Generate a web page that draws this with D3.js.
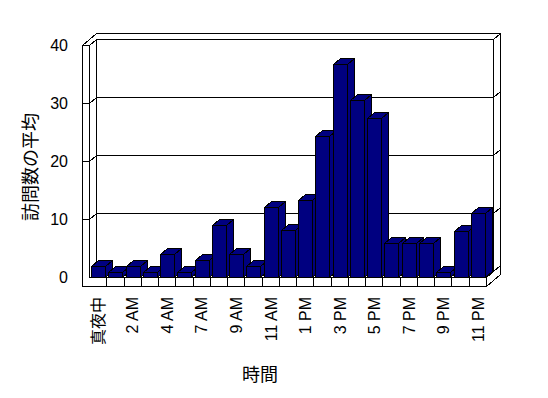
<!DOCTYPE html>
<html>
<head>
<meta charset="utf-8">
<script src="https://cdn.jsdelivr.net/npm/d3@7"></script>
<style>
  body { margin: 0; background: #fff; }
  svg { display: block; }
  text { fill: #000; }
</style>
</head>
<body>
<svg id="chart" width="548" height="398"></svg>
<script>
// hours of the day (5 AM has no visits and is not listed)
const hours = ['真夜中', '1 AM', '2 AM', '3 AM', '4 AM', '6 AM', '7 AM', '8 AM', '9 AM', '10 AM', '11 AM', '正午',
  '1 PM', '2 PM', '3 PM', '4 PM', '5 PM', '6 PM', '7 PM', '8 PM', '9 PM', '10 PM', '11 PM'];
const visits = [2, 1, 2, 1, 4, 1, 3, 9, 4, 2, 12.2, 8.2, 13.3, 24.4, 36.8, 30.6, 27.5, 6, 6, 6, 1, 8.1, 11.2];
const yTicks = [0, 10, 20, 30, 40];
const yTitle = '訪問数の平均';
const xTitle = '時間';

const BAR_FILL = '#000080';
const DX = 7;   // depth offset of one "slab" in the oblique projection
const DY = -6;
const WALL = 7; // left wall thickness
const FLOOR = 9; // floor thickness

const svg = d3.select('#chart');
const x0 = 89.5, x1 = 486.5;

const x = d3.scaleBand()
  .domain(hours)
  .range([x0, x1])
  .paddingInner(0.18)
  .paddingOuter(0.09);

const y = d3.scaleLinear().domain([0, 40]).range([277.5, 45.5]);

const step = x.step();
const yb = v => y(v) + DY;        // back wall plane
const yBase = y(0);
const yTop = y(40);
const pts = a => a.map(p => p.join(',')).join(' ');

const frame = svg.append('g')
  .attr('fill', '#fff')
  .attr('stroke', '#000')
  .attr('stroke-width', 1)
  .attr('shape-rendering', 'crispEdges');

// outer silhouette of walls + floor
frame.append('polygon').attr('points', pts([
  [x0 - WALL + 2 * DX, yTop + 2 * DY],
  [x1 + 2 * DX, yTop + 2 * DY],
  [x1 + 2 * DX, yBase + FLOOR + 2 * DY],
  [x1, yBase + FLOOR],
  [x0 - WALL, yBase + FLOOR],
  [x0 - WALL, yTop],
]));

// back wall face
frame.append('rect')
  .attr('x', x0 + DX).attr('y', yb(40))
  .attr('width', x1 - x0).attr('height', yb(0) - yb(40));

frame.append('line')
  .attr('x1', x1 + DX).attr('y1', yb(40))
  .attr('x2', x1 + 2 * DX).attr('y2', yb(40) + DY);

// left wall
frame.append('path')
  .attr('fill', 'none')
  .attr('d', `M${x0 - WALL},${yTop}H${x0}L${x0 + DX},${yb(40)}M${x0},${yTop}V${yBase}`);

// gridlines across back wall, left wall and right edge
const grid = frame.append('g').attr('fill', 'none');
grid.selectAll('path')
  .data(yTicks.filter(v => v > 0 && v < 40))
  .join('path')
  .attr('d', v => `M${x0 - WALL},${y(v)}H${x0}L${x0 + DX},${yb(v)}H${x1 + DX}L${x1 + 2 * DX},${yb(v) + DY}`);

// floor
frame.append('path')
  .attr('fill', 'none')
  .attr('d', `M${x0},${yBase}H${x1}V${yBase + FLOOR}M${x1},${yBase}L${x1 + 2 * DX},${yBase + 2 * DY}`);

frame.append('g').selectAll('line')
  .data(d3.range(1, hours.length))
  .join('line')
  .attr('x1', i => x0 + i * step).attr('x2', i => x0 + i * step)
  .attr('y1', yBase).attr('y2', yBase + FLOOR);

// bars, left to right so each front covers the previous side
const bw = x.bandwidth();
const bars = svg.append('g')
  .attr('fill', BAR_FILL)
  .attr('stroke', '#000')
  .attr('stroke-width', 1)
  .attr('shape-rendering', 'crispEdges');

hours.forEach((h, i) => {
  const l = Math.round(x(h)) + 0.5;
  const r = l + Math.round(bw);
  const t = Math.round(y(visits[i])) + 0.5;
  const b = yBase;
  const g = bars.append('g');
  g.append('polygon').attr('points', pts([[l, t], [l + DX, t + DY], [r + DX, t + DY], [r, t]]));
  g.append('polygon').attr('points', pts([[r, t], [r + DX, t + DY], [r + DX, b + DY], [r, b]]));
  g.append('rect').attr('x', l).attr('y', t).attr('width', r - l).attr('height', b - t);
});

// value labels
svg.append('g')
  .attr('font-family', 'Liberation Sans, Arial, sans-serif')
  .attr('font-size', 16)
  .attr('text-anchor', 'end')
  .selectAll('text')
  .data(yTicks)
  .join('text')
  .attr('x', 68)
  .attr('y', v => y(v))
  .attr('dy', '0.36em')
  .text(d => d);

// hour labels, every second one
svg.append('g')
  .attr('font-family', 'Liberation Sans, "Noto Sans CJK JP", sans-serif')
  .attr('font-size', 16)
  .attr('text-anchor', 'end')
  .selectAll('text')
  .data(hours.filter((h, i) => i % 2 === 0))
  .join('text')
  .attr('transform', h => `translate(${x(h) + bw / 2},297) rotate(-90)`)
  .attr('dy', '0.36em')
  .text(d => d);

svg.append('text')
  .attr('font-family', '"Noto Sans CJK JP", sans-serif')
  .attr('font-size', 18)
  .attr('text-anchor', 'middle')
  .attr('transform', 'translate(31,167) rotate(-90)')
  .attr('dy', '0.36em')
  .text(yTitle);

svg.append('text')
  .attr('font-family', '"Noto Sans CJK JP", sans-serif')
  .attr('font-size', 18)
  .attr('text-anchor', 'middle')
  .attr('x', 260)
  .attr('y', 375)
  .attr('dy', '0.36em')
  .text(xTitle);
</script>
</body>
</html>
